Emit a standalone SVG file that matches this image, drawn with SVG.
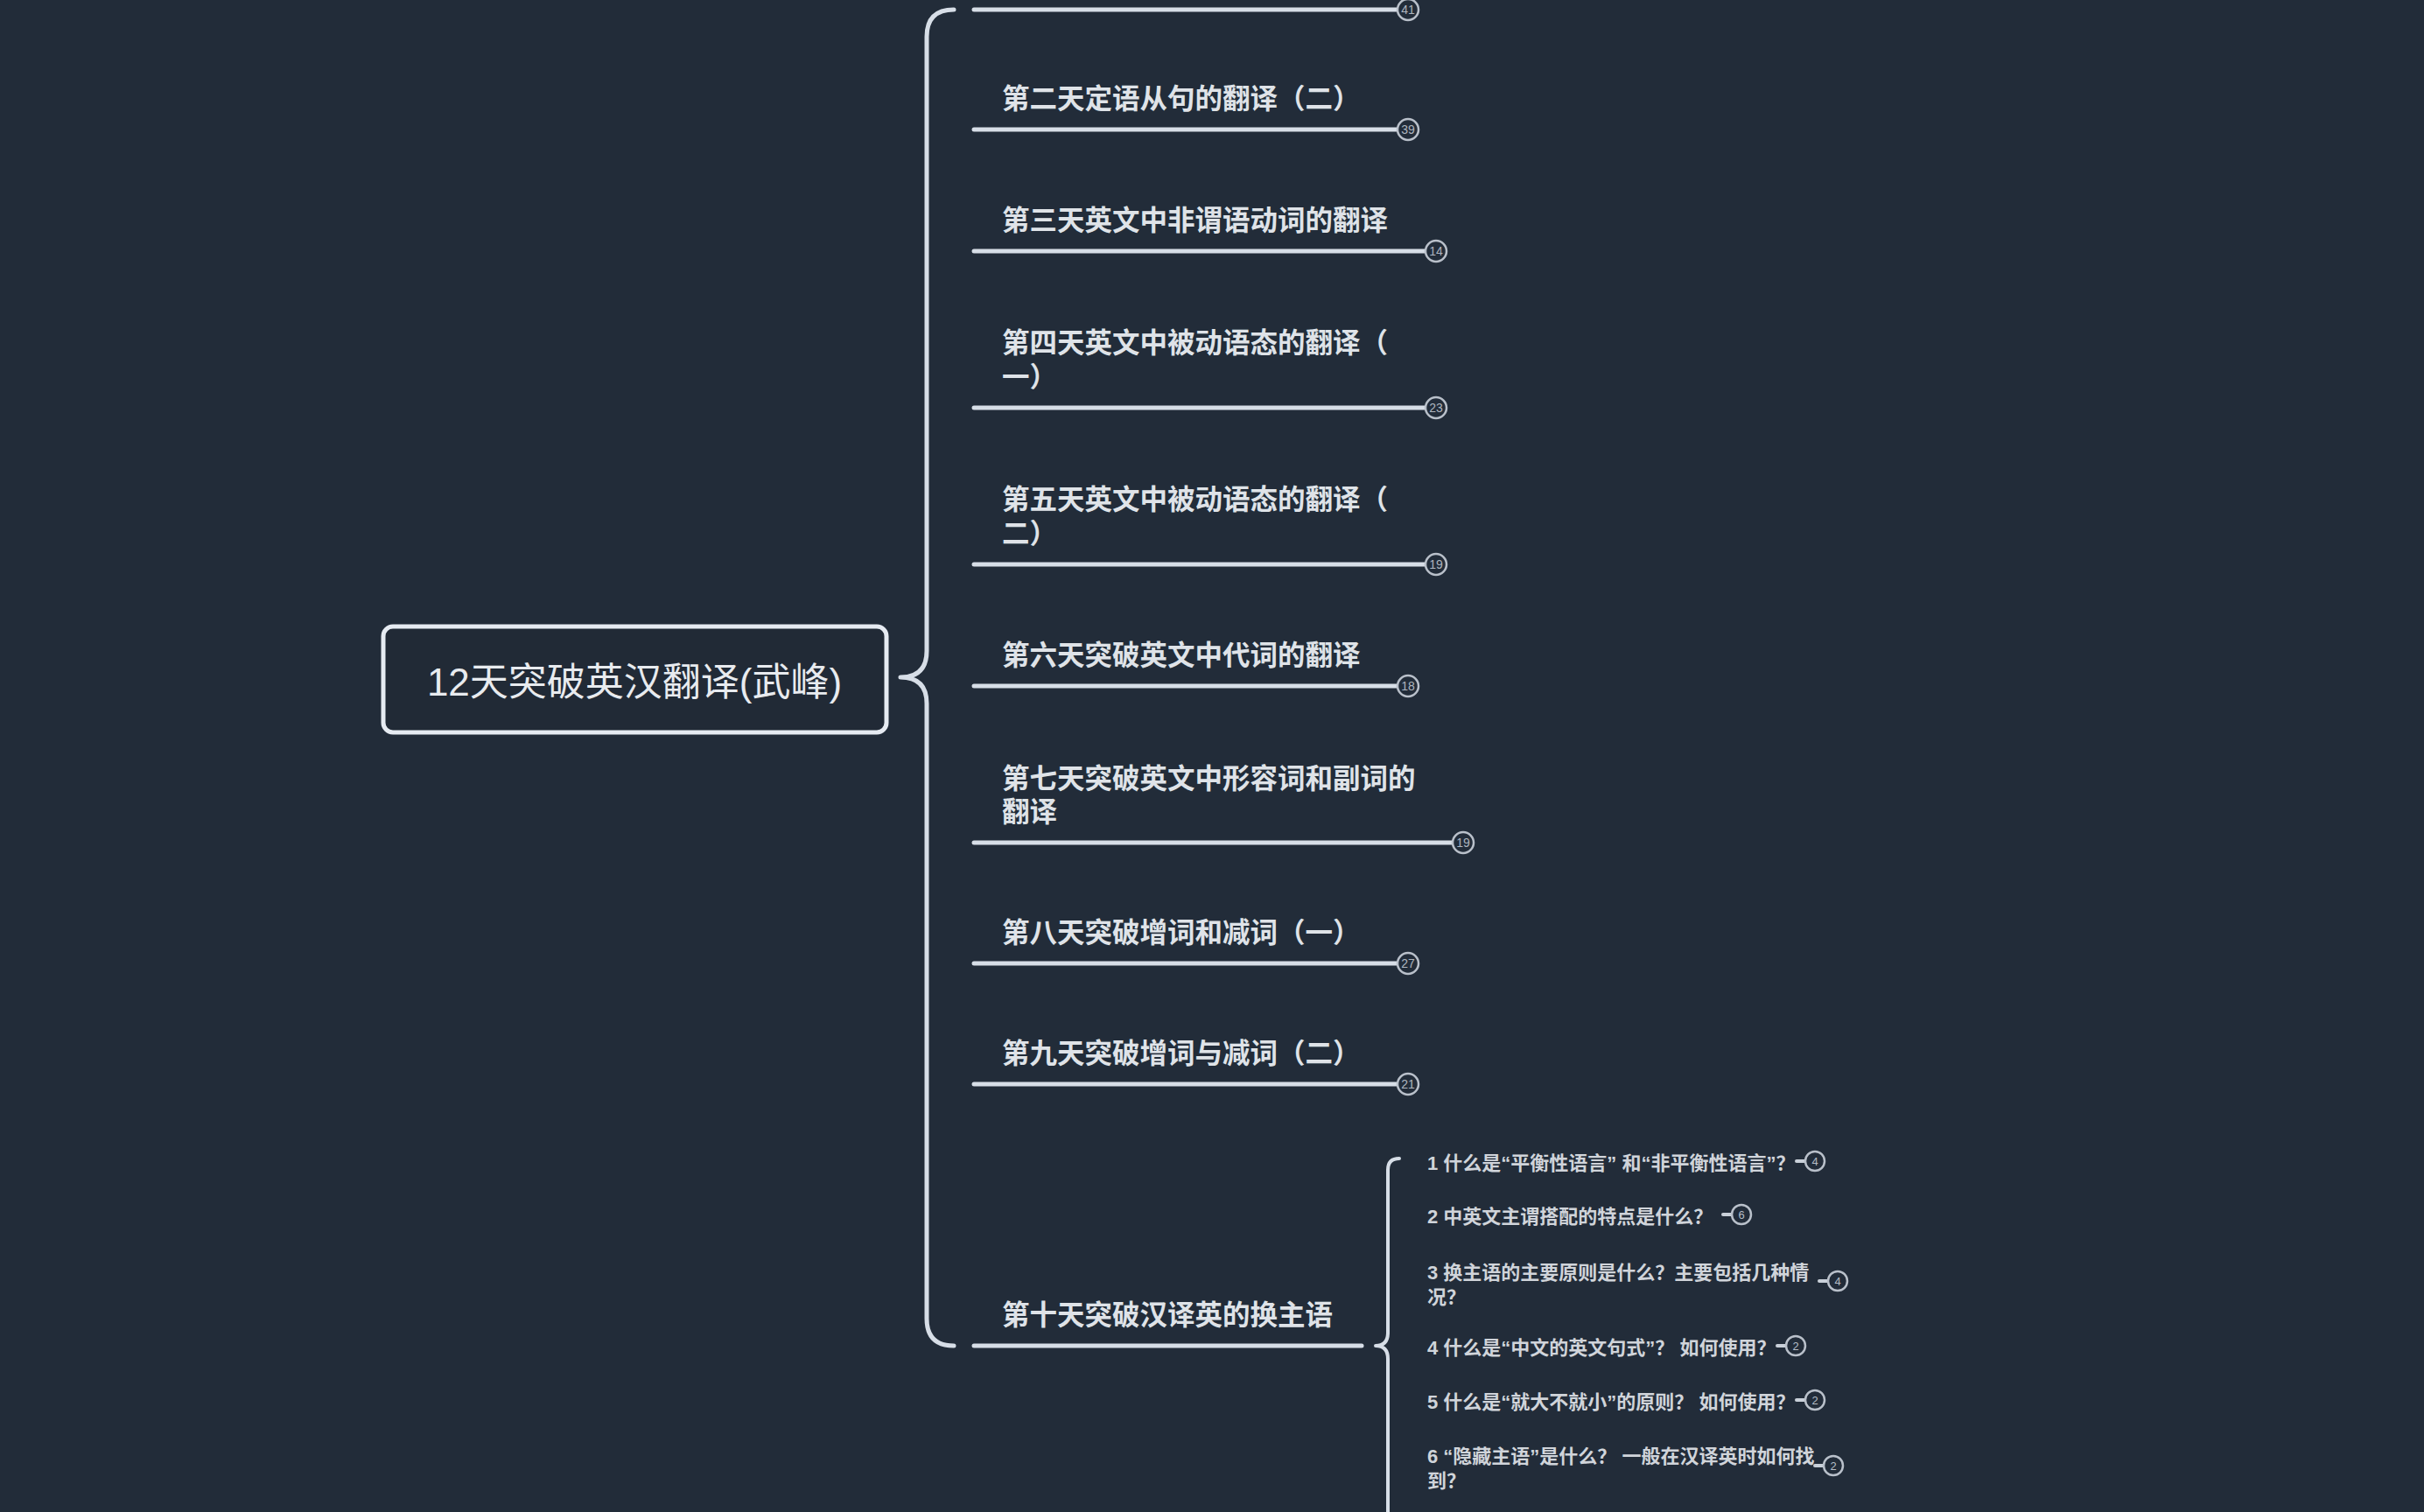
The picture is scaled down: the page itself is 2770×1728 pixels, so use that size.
<svg xmlns="http://www.w3.org/2000/svg" width="2770" height="1728" viewBox="0 0 2770 1728">
<defs>
<style>
.bg{fill:#222c39}
.t0{font-family:"Liberation Sans","Noto Sans CJK SC",sans-serif;font-size:44px;fill:#e8ebef;text-anchor:middle}
.t1{font-family:"Liberation Sans","Noto Sans CJK SC",sans-serif;font-size:31.5px;fill:#dfe3e8;font-weight:600}
.t2{font-family:"Liberation Sans","Noto Sans CJK SC",sans-serif;font-size:22px;fill:#d0d4da;font-weight:600}
.ul{stroke:#d7dee7;stroke-width:5;stroke-linecap:round;fill:none}
.br{stroke:#d7dee7;stroke-width:5;fill:none;stroke-linecap:round;stroke-linejoin:round}
.br2{stroke:#d7dee7;stroke-width:4;fill:none;stroke-linecap:round;stroke-linejoin:round}
.bd{fill:#222c39;stroke:#b9c0ca;stroke-width:2.5}
.dash{stroke:#c9d0d9;stroke-width:4;stroke-linecap:round}
.bn{font-family:"Liberation Sans",sans-serif;font-size:14px;fill:#aeb5bf;text-anchor:middle;dominant-baseline:central}
.bn2{font-family:"Liberation Sans",sans-serif;font-size:13px;fill:#b5bcc6;text-anchor:middle;dominant-baseline:central}
</style>
</defs>
<rect class="bg" x="0" y="0" width="2770" height="1728"/>

<g id="connectors">
  <path class="br" d="M1090,11 Q1059,11 1059,42 L1059,744 Q1059,774 1029,774 Q1059,774 1059,804 L1059,1507 Q1059,1538 1090,1538"/>
  <path class="br2" d="M1599,1324 Q1586,1324 1586,1337 L1586,1523 Q1586,1538 1572,1538 Q1586,1538 1586,1553 L1586,1740"/>
</g>

<g id="root">
  <rect x="438" y="716" width="575" height="121" rx="11" fill="#212a36" stroke="#e6ebf2" stroke-width="5"/>
  <text class="t0" x="725" y="795">12天突破英汉翻译(武峰)</text>
</g>

<g id="day1">
  <line class="ul" x1="1113" y1="11" x2="1597" y2="11"/>
  <circle class="bd" cx="1609" cy="11" r="12"/><text class="bn" x="1609" y="11">41</text>
</g>
<g id="day2">
  <text class="t1" x="1145" y="124">第二天定语从句的翻译（二）</text>
  <line class="ul" x1="1113" y1="148" x2="1597" y2="148"/>
  <circle class="bd" cx="1609" cy="148" r="12"/><text class="bn" x="1609" y="148">39</text>
</g>
<g id="day3">
  <text class="t1" x="1145" y="263">第三天英文中非谓语动词的翻译</text>
  <line class="ul" x1="1113" y1="287" x2="1629" y2="287"/>
  <circle class="bd" cx="1641" cy="287" r="12"/><text class="bn" x="1641" y="287">14</text>
</g>
<g id="day4">
  <text class="t1" x="1145" y="403">第四天英文中被动语态的翻译（<tspan x="1145" y="442">一）</tspan></text>
  <line class="ul" x1="1113" y1="466" x2="1629" y2="466"/>
  <circle class="bd" cx="1641" cy="466" r="12"/><text class="bn" x="1641" y="466">23</text>
</g>
<g id="day5">
  <text class="t1" x="1145" y="582">第五天英文中被动语态的翻译（<tspan x="1145" y="621">二）</tspan></text>
  <line class="ul" x1="1113" y1="645" x2="1629" y2="645"/>
  <circle class="bd" cx="1641" cy="645" r="12"/><text class="bn" x="1641" y="645">19</text>
</g>
<g id="day6">
  <text class="t1" x="1145" y="760">第六天突破英文中代词的翻译</text>
  <line class="ul" x1="1113" y1="784" x2="1597" y2="784"/>
  <circle class="bd" cx="1609" cy="784" r="12"/><text class="bn" x="1609" y="784">18</text>
</g>
<g id="day7">
  <text class="t1" x="1145" y="901">第七天突破英文中形容词和副词的<tspan x="1145" y="939">翻译</tspan></text>
  <line class="ul" x1="1113" y1="963" x2="1660" y2="963"/>
  <circle class="bd" cx="1672" cy="963" r="12"/><text class="bn" x="1672" y="963">19</text>
</g>
<g id="day8">
  <text class="t1" x="1145" y="1077">第八天突破增词和减词（一）</text>
  <line class="ul" x1="1113" y1="1101" x2="1597" y2="1101"/>
  <circle class="bd" cx="1609" cy="1101" r="12"/><text class="bn" x="1609" y="1101">27</text>
</g>
<g id="day9">
  <text class="t1" x="1145" y="1215">第九天突破增词与减词（二）</text>
  <line class="ul" x1="1113" y1="1239" x2="1597" y2="1239"/>
  <circle class="bd" cx="1609" cy="1239" r="12"/><text class="bn" x="1609" y="1239">21</text>
</g>
<g id="day10">
  <text class="t1" x="1145" y="1514">第十天突破汉译英的换主语</text>
  <line class="ul" x1="1113" y1="1538" x2="1556" y2="1538"/>
</g>

<g id="q1">
  <text class="t2" x="1631" y="1337">1 什么是“平衡性语言” 和“非平衡性语言”？</text>
  <line class="dash" x1="2053" y1="1327" x2="2062" y2="1327"/>
  <circle class="bd" cx="2074" cy="1327" r="11"/><text class="bn2" x="2074" y="1327">4</text>
</g>
<g id="q2">
  <text class="t2" x="1631" y="1398">2 中英文主谓搭配的特点是什么？</text>
  <line class="dash" x1="1969" y1="1388" x2="1978" y2="1388"/>
  <circle class="bd" cx="1990" cy="1388" r="11"/><text class="bn2" x="1990" y="1388">6</text>
</g>
<g id="q3">
  <text class="t2" x="1631" y="1462">3 换主语的主要原则是什么？主要包括几种情<tspan x="1631" y="1490">况？</tspan></text>
  <line class="dash" x1="2079" y1="1464" x2="2088" y2="1464"/>
  <circle class="bd" cx="2100" cy="1464" r="11"/><text class="bn2" x="2100" y="1464">4</text>
</g>
<g id="q4">
  <text class="t2" x="1631" y="1548">4 什么是“中文的英文句式”？ 如何使用？</text>
  <line class="dash" x1="2031" y1="1538" x2="2040" y2="1538"/>
  <circle class="bd" cx="2052" cy="1538" r="11"/><text class="bn2" x="2052" y="1538">2</text>
</g>
<g id="q5">
  <text class="t2" x="1631" y="1610">5 什么是“就大不就小”的原则？ 如何使用？</text>
  <line class="dash" x1="2053" y1="1600" x2="2062" y2="1600"/>
  <circle class="bd" cx="2074" cy="1600" r="11"/><text class="bn2" x="2074" y="1600">2</text>
</g>
<g id="q6">
  <text class="t2" x="1631" y="1672">6 “隐藏主语”是什么？ 一般在汉译英时如何找<tspan x="1631" y="1700">到？</tspan></text>
  <line class="dash" x1="2074" y1="1675" x2="2083" y2="1675"/>
  <circle class="bd" cx="2095" cy="1675" r="11"/><text class="bn2" x="2095" y="1675">2</text>
</g>
</svg>
